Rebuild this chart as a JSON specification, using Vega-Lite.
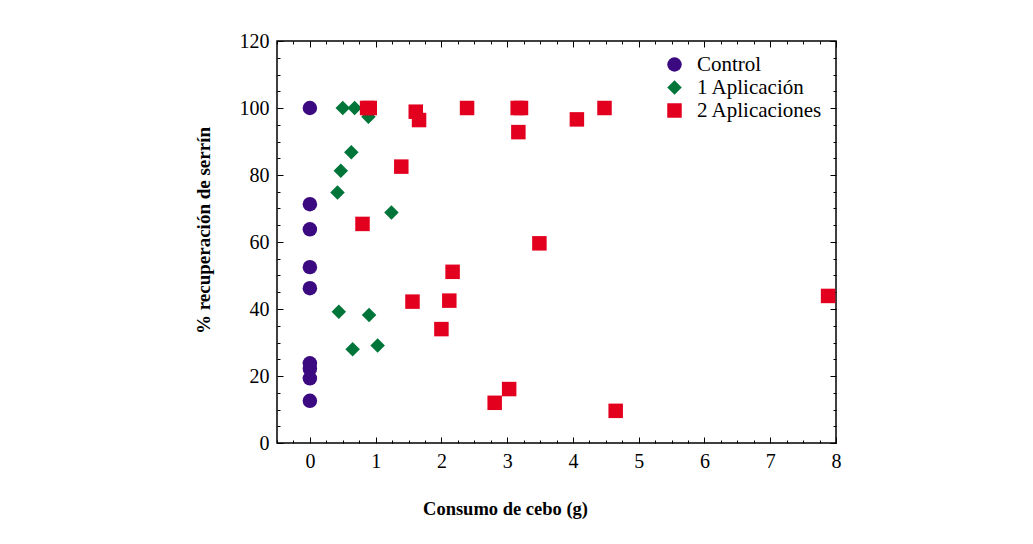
{
  "$schema": "https://vega.github.io/schema/vega-lite/v6.json",
  "width": 559,
  "height": 402,
  "autosize": {"type": "none"},
  "padding": {"left": 277, "top": 41, "right": 197, "bottom": 101},
  "background": "white",
  "config": {
    "font": "Liberation Serif",
    "view": {"stroke": "#000", "strokeWidth": 1.5},
    "axis": {"grid": false, "domain": false, "ticks": true, "tickColor": "#000", "tickWidth": 1, "labelColor": "#000", "titleColor": "#000", "labelFont": "Liberation Serif", "titleFont": "Liberation Serif"},
    "legend": {"labelFont": "Liberation Serif"}
  },
  "data": {
    "values": [
      {"x": 0, "y": 100, "grupo": "Control"},
      {"x": 0, "y": 71.3, "grupo": "Control"},
      {"x": 0, "y": 63.8, "grupo": "Control"},
      {"x": 0, "y": 52.5, "grupo": "Control"},
      {"x": 0, "y": 46.2, "grupo": "Control"},
      {"x": 0, "y": 23.8, "grupo": "Control"},
      {"x": 0, "y": 22.2, "grupo": "Control"},
      {"x": 0, "y": 19.3, "grupo": "Control"},
      {"x": 0, "y": 12.6, "grupo": "Control"},
      {"x": 0.5, "y": 100, "grupo": "1 Aplicación"},
      {"x": 0.68, "y": 100, "grupo": "1 Aplicación"},
      {"x": 0.89, "y": 97.4, "grupo": "1 Aplicación"},
      {"x": 0.63, "y": 86.8, "grupo": "1 Aplicación"},
      {"x": 0.47, "y": 81.3, "grupo": "1 Aplicación"},
      {"x": 0.42, "y": 74.8, "grupo": "1 Aplicación"},
      {"x": 1.24, "y": 68.8, "grupo": "1 Aplicación"},
      {"x": 0.44, "y": 39.2, "grupo": "1 Aplicación"},
      {"x": 0.9, "y": 38.2, "grupo": "1 Aplicación"},
      {"x": 0.65, "y": 28.0, "grupo": "1 Aplicación"},
      {"x": 1.03, "y": 29.1, "grupo": "1 Aplicación"},
      {"x": 0.87, "y": 100, "grupo": "2 Aplicaciones"},
      {"x": 0.91, "y": 100, "grupo": "2 Aplicaciones"},
      {"x": 1.61, "y": 98.9, "grupo": "2 Aplicaciones"},
      {"x": 1.66, "y": 96.4, "grupo": "2 Aplicaciones"},
      {"x": 1.39, "y": 82.5, "grupo": "2 Aplicaciones"},
      {"x": 0.8, "y": 65.4, "grupo": "2 Aplicaciones"},
      {"x": 2.39, "y": 100, "grupo": "2 Aplicaciones"},
      {"x": 2.17, "y": 51.1, "grupo": "2 Aplicaciones"},
      {"x": 1.56, "y": 42.2, "grupo": "2 Aplicaciones"},
      {"x": 2.12, "y": 42.5, "grupo": "2 Aplicaciones"},
      {"x": 2.0, "y": 34.0, "grupo": "2 Aplicaciones"},
      {"x": 3.16, "y": 100, "grupo": "2 Aplicaciones"},
      {"x": 3.21, "y": 100, "grupo": "2 Aplicaciones"},
      {"x": 3.17, "y": 92.8, "grupo": "2 Aplicaciones"},
      {"x": 3.49, "y": 59.6, "grupo": "2 Aplicaciones"},
      {"x": 3.03, "y": 16.1, "grupo": "2 Aplicaciones"},
      {"x": 2.81, "y": 12.0, "grupo": "2 Aplicaciones"},
      {"x": 4.06, "y": 96.6, "grupo": "2 Aplicaciones"},
      {"x": 4.48, "y": 100, "grupo": "2 Aplicaciones"},
      {"x": 4.65, "y": 9.6, "grupo": "2 Aplicaciones"},
      {"x": 7.88, "y": 43.9, "grupo": "2 Aplicaciones"}
    ]
  },
  "layer": [
    {
      "mark": {"type": "point", "filled": true, "opacity": 1, "size": 210},
      "encoding": {
        "x": {
          "field": "x", "type": "quantitative",
          "scale": {"domain": [-0.5, 8], "nice": false, "zero": false},
          "axis": {
            "orient": "bottom",
            "values": [-0.5,-0.25,0,0.25,0.5,0.75,1,1.25,1.5,1.75,2,2.25,2.5,2.75,3,3.25,3.5,3.75,4,4.25,4.5,4.75,5,5.25,5.5,5.75,6,6.25,6.5,6.75,7,7.25,7.5,7.75,8],
            "labelExpr": "datum.value % 1 === 0 ? format(datum.value, 'd') : ''",
            "labelOverlap": false,
            "labelFlush": false,
            "tickSize": {"condition": {"test": "datum.value % 1 === 0", "value": -6}, "value": -3},
            "labelPadding": 14,
            "labelFontSize": 20,
            "title": "Consumo de cebo (g)",
            "titleFontSize": 18.5,
            "titleFontWeight": "bold",
            "titleX": 228,
            "titleY": 71,
            "titleBaseline": "alphabetic",
            "titleAlign": "center"
          }
        },
        "y": {
          "field": "y", "type": "quantitative",
          "scale": {"domain": [0, 120], "nice": false},
          "axis": {
            "orient": "left",
            "values": [0,5,10,15,20,25,30,35,40,45,50,55,60,65,70,75,80,85,90,95,100,105,110,115,120],
            "labelExpr": "datum.value % 20 === 0 ? format(datum.value, 'd') : ''",
            "labelOverlap": false,
            "labelFlush": false,
            "tickSize": {"condition": {"test": "datum.value % 20 === 0", "value": -6}, "value": -3},
            "labelPadding": 14,
            "labelFontSize": 20,
            "title": "% recuperación de serrín",
            "titleFontSize": 19,
            "titleFontWeight": "bold",
            "titleX": -74,
            "titleY": 189,
            "titleAngle": 270,
            "titleBaseline": "middle",
            "titleAlign": "center"
          }
        },
        "color": {
          "field": "grupo", "type": "nominal",
          "scale": {"domain": ["Control", "1 Aplicación", "2 Aplicaciones"], "range": ["#3b0a80", "#00753a", "#e2001e"]},
          "legend": {
            "title": null,
            "orient": "top-right",
            "offset": 13,
            "labelFontSize": 21,
            "labelFont": "Liberation Serif",
            "labelColor": "#000",
            "symbolSize": 210,
            "labelOffset": 12,
            "rowPadding": 1,
            "padding": 0
          }
        },
        "shape": {
          "field": "grupo", "type": "nominal",
          "scale": {"domain": ["Control", "1 Aplicación", "2 Aplicaciones"], "range": ["circle", "diamond", "square"]},
          "legend": {
            "title": null,
            "orient": "top-right",
            "offset": 13,
            "labelFontSize": 21,
            "labelFont": "Liberation Serif",
            "labelColor": "#000",
            "symbolSize": 210,
            "labelOffset": 12,
            "rowPadding": 1,
            "padding": 0
          }
        }
      }
    },
    {
      "mark": {"type": "point", "opacity": 0},
      "encoding": {
        "x": {
          "field": "x", "type": "quantitative",
          "axis": {
            "orient": "top",
            "values": [-0.5,-0.25,0,0.25,0.5,0.75,1,1.25,1.5,1.75,2,2.25,2.5,2.75,3,3.25,3.5,3.75,4,4.25,4.5,4.75,5,5.25,5.5,5.75,6,6.25,6.5,6.75,7,7.25,7.5,7.75,8],
            "labels": false,
            "title": null,
            "tickSize": {"condition": {"test": "datum.value % 1 === 0", "value": -6}, "value": -3}
          }
        },
        "y": {
          "field": "y", "type": "quantitative",
          "axis": {
            "orient": "right",
            "values": [0,5,10,15,20,25,30,35,40,45,50,55,60,65,70,75,80,85,90,95,100,105,110,115,120],
            "labels": false,
            "title": null,
            "tickSize": {"condition": {"test": "datum.value % 20 === 0", "value": -6}, "value": -3}
          }
        }
      }
    }
  ],
  "resolve": {"axis": {"x": "independent", "y": "independent"}}
}
